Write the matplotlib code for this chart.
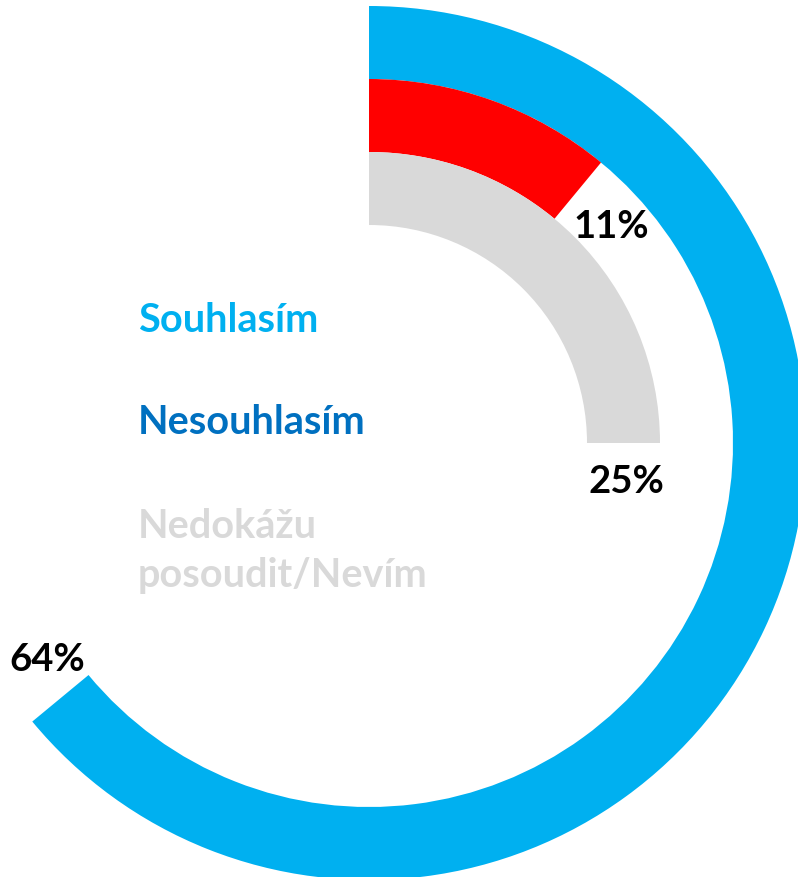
import matplotlib
matplotlib.use("Agg")
import matplotlib.pyplot as plt
from matplotlib.patches import Wedge
import numpy as np

# data: outer ring first
categories = ["Souhlasím", "Nesouhlasím", "Nedokážu\nposoudit/Nevím"]
values = [64, 11, 25]
ring_colors = ["#00B0F0", "#FF0000", "#D9D9D9"]
text_colors = ["#00B0F0", "#0070C0", "#D9D9D9"]

W, H = 798, 878
fig = plt.figure(figsize=(W / 100, H / 100), dpi=100)
ax = fig.add_axes([0, 0, 1, 1])
ax.set_xlim(0, W)
ax.set_ylim(0, H)
ax.set_aspect("equal")
ax.axis("off")

font = "Lato"
cx, cy = 369, H - 444
outer = [437, 364, 291]
width = 73
# label shift past arc end: (along arc px, radial px)
label_shift = [(40, -13), (49, -2), (37, 6)]

for v, r, c, (s, dr) in zip(values, outer, ring_colors, label_shift):
    end = 90 - 360 * v / 100
    ax.add_patch(Wedge((cx, cy), r, end, 90, width=width, color=c, lw=0))

    rm = r - width / 2
    a = np.radians(360 * v / 100) + s / rm
    ax.text(cx + (rm + dr) * np.sin(a), cy + (rm + dr) * np.cos(a), f"{v}%",
            ha="center", va="center", fontsize=27.5, fontweight="bold",
            family=font, color="black")

# legend text on the left
ys = [H - 320, H - 422, H - 551]
for name, y, c in zip(categories, ys, text_colors):
    ax.text(138, y, name, ha="left", va="center", fontsize=28.5,
            fontweight="bold", family=font, color=c, linespacing=1.42)

fig.savefig("out.png", dpi=100)
